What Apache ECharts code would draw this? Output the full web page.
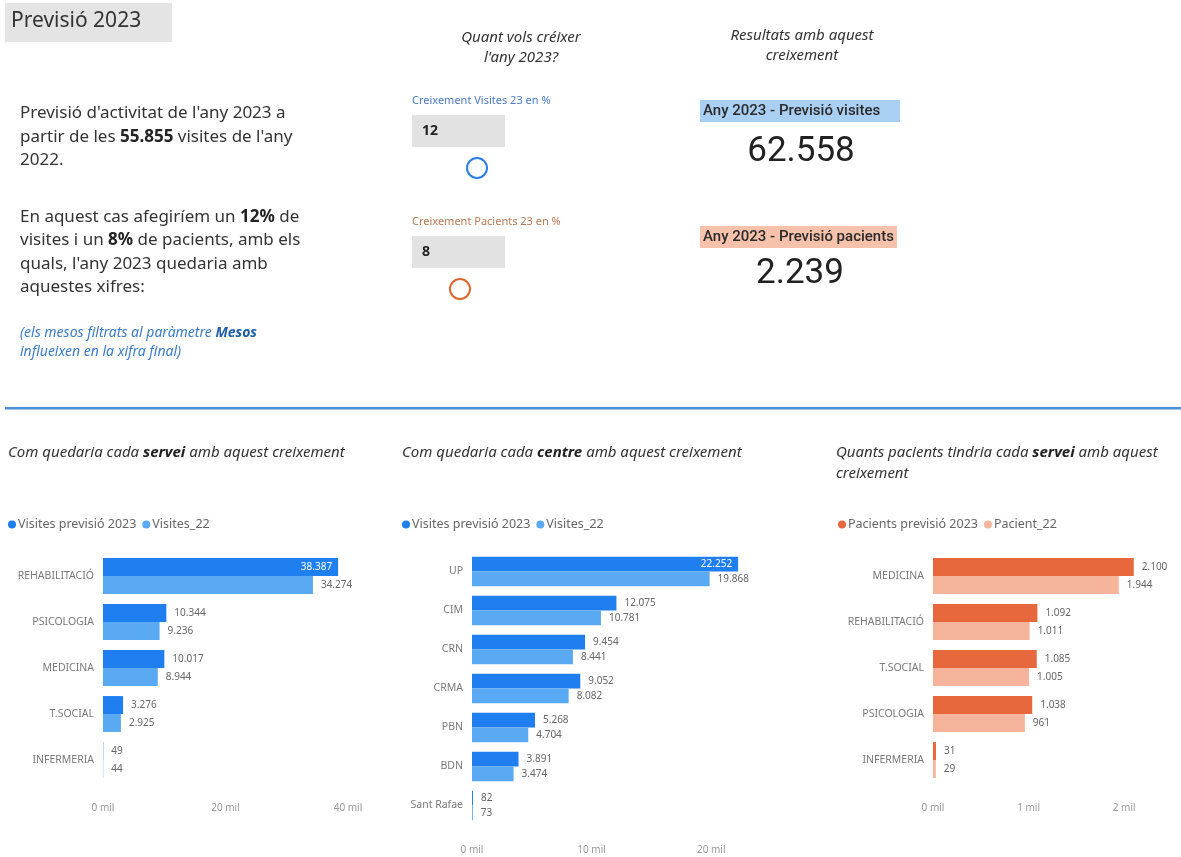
<!DOCTYPE html>
<html>
<head>
<meta charset="utf-8">
<title>Previsió 2023</title>
<script src="https://cdn.jsdelivr.net/npm/echarts@6/dist/echarts.min.js"></script>
<style>
  body { margin: 0; background: #fff; }
  #main { width: 1181px; height: 857px; }
</style>
</head>
<body>
<div id="main"></div>
<script>
var visites22Total = 55855
var creixVisites = 12
var creixPacients = 8
var previsioVisites = 62558
var previsioPacients = 2239

var serveis = ['REHABILITACIÓ', 'PSICOLOGIA', 'MEDICINA', 'T.SOCIAL', 'INFERMERIA']
var visites23Servei = [38387, 10344, 10017, 3276, 49]
var visites22Servei = [34274, 9236, 8944, 2925, 44]

var centres = ['UP', 'CIM', 'CRN', 'CRMA', 'PBN', 'BDN', 'Sant Rafael']
var visites23Centre = [22252, 12075, 9454, 9052, 5268, 3891, 82]
var visites22Centre = [19868, 10781, 8441, 8082, 4704, 3474, 73]

var serveisPac = ['MEDICINA', 'REHABILITACIÓ', 'T.SOCIAL', 'PSICOLOGIA', 'INFERMERIA']
var pacients23 = [2100, 1092, 1085, 1038, 31]
var pacients22 = [1944, 1011, 1005, 961, 29]

var FONT = '"Noto Sans", "Open Sans", sans-serif'

function fmt(n) {
  return String(n).replace(/\B(?=(\d{3})+(?!\d))/g, '.')
}

// the biggest bar of a chart gets its value written inside in white
function barData(values, insideIdx) {
  return values.map(function (v, i) {
    if (i === insideIdx) {
      return { value: v, label: { position: 'insideRight', color: '#fff', distance: 6 } }
    }
    return v
  })
}

function xAxisFor(idx, max, interval) {
  return {
    type: 'value', gridIndex: idx, min: 0, max: max, interval: interval,
    splitLine: { show: false }, axisLine: { show: false }, axisTick: { show: false },
    axisLabel: {
      color: '#9a9a9a', fontSize: 10, fontFamily: FONT, margin: 20,
      formatter: function (v) { return v % interval === 0 ? (v / 1000) + ' mil' : '' }
    }
  }
}

function yAxisFor(idx, cats, width) {
  return {
    type: 'category', gridIndex: idx, data: cats, inverse: true,
    axisLine: { show: false }, axisTick: { show: false },
    axisLabel: {
      color: '#7a7a7a', fontSize: 10.5, fontFamily: FONT, margin: 9,
      width: width, overflow: 'truncate', ellipsis: ''
    }
  }
}

function barSeries(name, idx, values, color, insideIdx, catGap) {
  return {
    name: name, type: 'bar', xAxisIndex: idx, yAxisIndex: idx,
    data: barData(values, insideIdx),
    itemStyle: { color: color },
    barGap: '0%', barCategoryGap: catGap,
    label: {
      show: true, position: 'right', distance: 8, color: '#666', fontSize: 10, fontFamily: FONT,
      formatter: function (p) { return fmt(p.value) }
    },
    emphasis: { disabled: true }
  }
}

function txt(x, y, text, style) {
  var s = { text: text, fill: '#333', font: '17px ' + FONT, verticalAlign: 'middle' }
  for (var k in style) s[k] = style[k]
  return { type: 'text', x: x, y: y, style: s, silent: true }
}

var boldRich = { b: { fontWeight: 'bold', fontSize: 17, fontFamily: FONT, fill: '#222' } }
var titleRich = { b: { fontWeight: 'bold', fontStyle: 'italic', fontSize: 15, fontFamily: FONT, fill: '#222' } }

var chartDom = document.getElementById('main')
var myChart = echarts.init(chartDom)

var option = {
  animation: false,
  backgroundColor: '#fff',
  textStyle: { fontFamily: FONT },
  graphic: [
    // header
    { type: 'rect', shape: { x: 5, y: 3, width: 167, height: 39 }, style: { fill: '#e4e4e4' }, silent: true },
    txt(11, 21, 'Previsió 2023', { font: '21px ' + FONT, fill: '#333' }),

    // left description
    txt(20, 113, "Previsió d'activitat de l'any 2023 a", {}),
    txt(20, 137, "partir de les {b|" + fmt(visites22Total) + "} visites de l'any", { rich: boldRich }),
    txt(20, 160, '2022.', {}),
    txt(20, 217, 'En aquest cas afegiríem un {b|' + creixVisites + '%} de', { rich: boldRich }),
    txt(20, 240, 'visites i un {b|' + creixPacients + '%} de pacients, amb els', { rich: boldRich }),
    txt(20, 264, "quals, l'any 2023 quedaria amb", {}),
    txt(20, 287, 'aquestes xifres:', {}),
    txt(20, 333, '(els mesos filtrats al paràmetre {b|Mesos}', {
      font: 'italic 14px ' + FONT, fill: '#3c7cc8',
      rich: { b: { fontWeight: 'bold', fontStyle: 'italic', fontSize: 14, fontFamily: FONT, fill: '#1f5fa8' } }
    }),
    txt(20, 352, 'influeixen en la xifra final)', { font: 'italic 14px ' + FONT, fill: '#3c7cc8' }),

    // sliders
    txt(521, 38, 'Quant vols créixer', { font: 'italic 15px ' + FONT, align: 'center' }),
    txt(521, 58, "l'any 2023?", { font: 'italic 15px ' + FONT, align: 'center' }),
    txt(412, 101, 'Creixement Visites 23 en %', { font: '11px ' + FONT, fill: '#4a78c8' }),
    { type: 'rect', shape: { x: 412, y: 115, width: 93, height: 32 }, style: { fill: '#e2e2e2' }, silent: true },
    txt(422, 131, String(creixVisites), { font: 'bold 14px ' + FONT, fill: '#222' }),
    { type: 'circle', shape: { cx: 477, cy: 168, r: 10 }, style: { fill: '#fff', stroke: '#2b7de9', lineWidth: 2 }, silent: true },
    txt(412, 222, 'Creixement Pacients 23 en %', { font: '11px ' + FONT, fill: '#b87a55' }),
    { type: 'rect', shape: { x: 412, y: 236, width: 93, height: 32 }, style: { fill: '#e2e2e2' }, silent: true },
    txt(422, 252, String(creixPacients), { font: 'bold 14px ' + FONT, fill: '#222' }),
    { type: 'circle', shape: { cx: 460, cy: 289, r: 10 }, style: { fill: '#fff', stroke: '#e0662f', lineWidth: 2 }, silent: true },

    // results
    txt(802, 36, 'Resultats amb aquest', { font: 'italic 15px ' + FONT, align: 'center' }),
    txt(802, 56, 'creixement', { font: 'italic 15px ' + FONT, align: 'center' }),
    { type: 'rect', shape: { x: 700, y: 100, width: 200, height: 22 }, style: { fill: '#a9cff3' }, silent: true },
    txt(703, 111, 'Any 2023 - Previsió visites', { font: '500 15px Roboto, sans-serif', fill: '#2a2a2a' }),
    txt(801, 152, fmt(previsioVisites), { font: '35px Roboto, sans-serif', fill: '#222', align: 'center' }),
    { type: 'rect', shape: { x: 700, y: 226, width: 197, height: 22 }, style: { fill: '#f6c2ac' }, silent: true },
    txt(703, 237, 'Any 2023 - Previsió pacients', { font: '500 15px Roboto, sans-serif', fill: '#2a2a2a' }),
    txt(800, 274, fmt(previsioPacients), { font: '35px Roboto, sans-serif', fill: '#222', align: 'center' }),

    // separator
    { type: 'rect', shape: { x: 5, y: 407, width: 1176, height: 2.5 }, style: { fill: '#4a90d9' }, silent: true },

    // chart titles
    txt(8, 453, 'Com quedaria cada {b|servei} amb aquest creixement', { font: 'italic 15px ' + FONT, rich: titleRich }),
    txt(402, 453, 'Com quedaria cada {b|centre} amb aquest creixement', { font: 'italic 15px ' + FONT, rich: titleRich }),
    txt(836, 453, 'Quants pacients tindria cada {b|servei} amb aquest', { font: 'italic 15px ' + FONT, rich: titleRich }),
    txt(836, 474, 'creixement', { font: 'italic 15px ' + FONT })
  ],
  legend: [
    {
      data: ['Visites previsió 2023', 'Visites_22'], left: 3, top: 513,
      icon: 'circle', itemWidth: 8, itemHeight: 8, itemGap: 6,
      textStyle: { color: '#666', fontSize: 12.5, fontFamily: FONT, padding: [0, 0, 0, -3] }
    },
    {
      data: ['Visites previsió 2023', 'Visites_22'], left: 397, top: 513,
      icon: 'circle', itemWidth: 8, itemHeight: 8, itemGap: 6,
      textStyle: { color: '#666', fontSize: 12.5, fontFamily: FONT, padding: [0, 0, 0, -3] }
    },
    {
      data: ['Pacients previsió 2023', 'Pacient_22'], left: 833, top: 513,
      icon: 'circle', itemWidth: 8, itemHeight: 8, itemGap: 6,
      textStyle: { color: '#666', fontSize: 12.5, fontFamily: FONT, padding: [0, 0, 0, -3] }
    }
  ],
  grid: [
    { left: 103, top: 553, width: 245, height: 230 },
    { left: 472, top: 552, width: 299, height: 273 },
    { left: 933, top: 553, width: 239, height: 230 }
  ],
  xAxis: [
    xAxisFor(0, 40000, 20000),
    xAxisFor(1, 25000, 10000),
    xAxisFor(2, 2500, 1000)
  ],
  yAxis: [
    yAxisFor(0, serveis, 90),
    yAxisFor(1, centres, 54),
    yAxisFor(2, serveisPac, 90)
  ],
  series: [
    barSeries('Visites previsió 2023', 0, visites23Servei, '#1f7ff0', 0, '22%'),
    barSeries('Visites_22', 0, visites22Servei, '#5aaaf3', -1, '22%'),
    barSeries('Visites previsió 2023', 1, visites23Centre, '#1f7ff0', 0, '24%'),
    barSeries('Visites_22', 1, visites22Centre, '#5aaaf3', -1, '24%'),
    barSeries('Pacients previsió 2023', 2, pacients23, '#e8683e', -1, '22%'),
    barSeries('Pacient_22', 2, pacients22, '#f5b49b', -1, '22%')
  ]
}

option && myChart.setOption(option)
</script>
</body>
</html>
